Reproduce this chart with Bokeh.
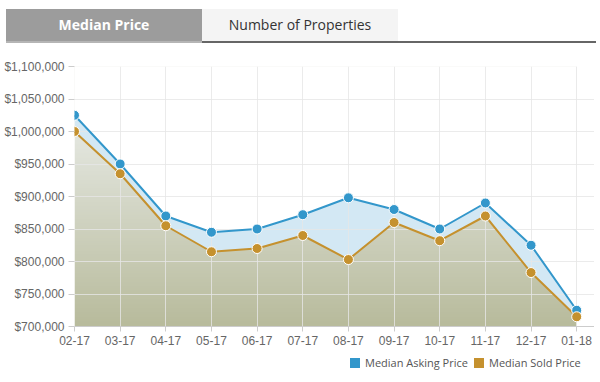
import numpy as np
from bokeh.plotting import figure
from bokeh.layouts import column
from bokeh.models import (Div, Range1d, FixedTicker, NumeralTickFormatter)
from bokeh.embed import file_html
from bokeh.resources import INLINE

months = ["02-17", "03-17", "04-17", "05-17", "06-17", "07-17",
          "08-17", "09-17", "10-17", "11-17", "12-17", "01-18"]
asking = [1025000, 950000, 870000, 845000, 850000, 872000,
          898000, 880000, 850000, 890000, 825000, 725000]
sold = [1000000, 935000, 855000, 815000, 820000, 840000,
        803000, 860000, 832000, 870000, 783000, 715000]
y_ticks = [700000, 750000, 800000, 850000, 900000, 950000, 1000000, 1050000, 1100000]
tabs = ["Median Price", "Number of Properties"]
series_names = ["Median Asking Price", "Median Sold Price"]

BLUE = "#3397cb"
GOLD = "#c5912e"

x = list(range(len(months)))
y_min, y_max = y_ticks[0], y_ticks[-1]
x_end = len(months) - 1 + 0.39

tab_html = f"""
<div style="position:relative;width:595px;height:34px;font-family:'Open Sans',sans-serif;">
  <div style="position:absolute;left:5px;top:1px;width:196px;height:32px;background:#9c9c9c;color:#fff;
       font-weight:bold;font-size:14px;line-height:32px;text-align:center;">{tabs[0]}</div>
  <div style="position:absolute;left:201px;top:1px;width:196px;height:32px;background:#f4f4f4;color:#333;
       font-size:14px;line-height:32px;text-align:center;">{tabs[1]}</div>
  <div style="position:absolute;left:5px;top:33px;width:196px;height:2px;background:#b5b5b5;"></div>
  <div style="position:absolute;left:201px;top:33px;width:394px;height:2px;background:#666;"></div>
</div>
"""
div = Div(text=tab_html, width=595, height=36, margin=(0, 0, 0, 0))

legend_html = f"""
<div style="position:relative;width:595px;height:24px;font-family:'Open Sans',sans-serif;font-size:11px;color:#555;">
  <div style="position:absolute;left:349px;top:8px;width:10px;height:10px;background:{BLUE};"></div>
  <div style="position:absolute;left:364px;top:4px;line-height:18px;white-space:nowrap;">{series_names[0]}</div>
  <div style="position:absolute;left:473px;top:8px;width:10px;height:10px;background:{GOLD};"></div>
  <div style="position:absolute;left:488px;top:4px;line-height:18px;white-space:nowrap;">{series_names[1]}</div>
</div>
"""
leg = Div(text=legend_html, width=595, height=24, margin=(0, 0, 0, 0))

p = figure(width=593, height=306, output_backend="svg", toolbar_location=None,
           x_range=Range1d(0, x_end), y_range=Range1d(y_min, y_max),
           min_border_left=69, min_border_right=0, min_border_top=22, min_border_bottom=24,
           outline_line_color=None, margin=(0, 0, 0, 0))

# gradient fill (olive) as an image, masked above the sold line
n = 200
ys = np.linspace(y_min, y_max, n)
top_c = np.array([0xe4, 0xe7, 0xe0])
bot_c = np.array([0xb8, 0xbb, 0x9c])
t = np.clip((ys - y_min) / (max(sold) - y_min), 0, 1)
img = np.zeros((n, 2), dtype=np.uint32)
view = img.view(dtype=np.uint8).reshape((n, 2, 4))
for i in range(n):
    c = bot_c + (top_c - bot_c) * t[i]
    view[i, :, 0] = int(c[0]); view[i, :, 1] = int(c[1]); view[i, :, 2] = int(c[2]); view[i, :, 3] = 255
p.image_rgba(image=[img], x=0, y=y_min, dw=len(months) - 1, dh=y_max - y_min, level="image")
p.varea(x=x, y1=sold, y2=[y_max] * len(x), fill_color="white", level="image")
p.varea(x=[len(months) - 1, x_end], y1=[y_min, y_min], y2=[y_max, y_max], fill_color="white", level="image")
p.varea(x=x, y1=sold, y2=asking, fill_color="#d3e8f4", level="image")

p.line(x, asking, line_color=BLUE, line_width=2)
p.line(x, sold, line_color=GOLD, line_width=2)
p.scatter(x, asking, size=10, fill_color=BLUE, line_color="white", line_width=1)
p.scatter(x, sold, size=10, fill_color=GOLD, line_color="white", line_width=1)

for g in (p.xgrid, p.ygrid):
    g.grid_line_color = "#e6e6e6"
    g.grid_line_alpha = 0.8
p.xgrid.ticker = FixedTicker(ticks=x)
p.ygrid.ticker = FixedTicker(ticks=y_ticks)

p.xaxis.ticker = FixedTicker(ticks=x)
p.xaxis.major_label_overrides = {i: m for i, m in enumerate(months)}
p.yaxis.ticker = FixedTicker(ticks=y_ticks)
p.yaxis.formatter = NumeralTickFormatter(format="$0,0")

for ax in (p.xaxis, p.yaxis):
    ax.major_label_text_font = "Liberation Sans"
    ax.major_label_text_font_size = "12px"
    ax.major_label_text_color = "#666666"
    ax.minor_tick_line_color = None
    ax.major_tick_in = 0
p.xaxis.axis_line_color = "#cccccc"
p.xaxis.major_tick_line_color = "#cccccc"
p.xaxis.major_tick_out = 5
p.xaxis.major_label_standoff = 4
p.yaxis.axis_line_color = None
p.yaxis.major_tick_line_color = "#cccccc"
p.yaxis.major_tick_out = 6
p.yaxis.major_label_standoff = 4

layout = column(div, p, leg, spacing=0, margin=(8, 0, 0, 1))
open("out.html", "w").write(file_html(layout, INLINE))
